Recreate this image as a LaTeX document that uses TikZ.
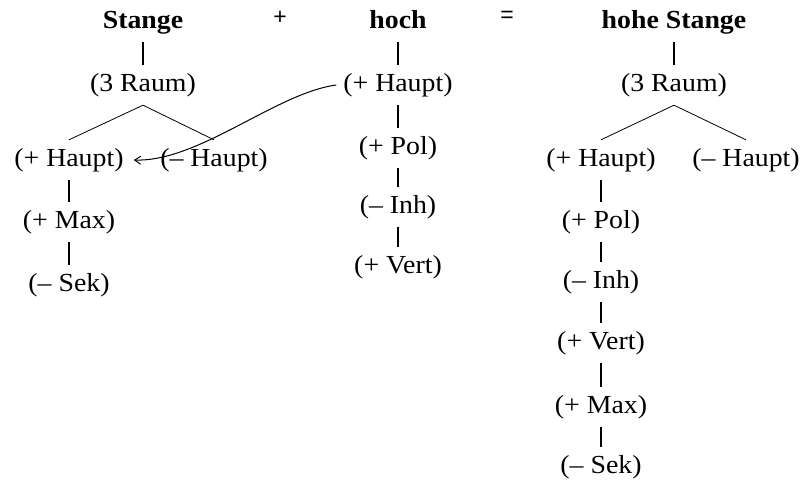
\documentclass[tikz,border=0pt]{standalone}
\usepackage{fontspec}
\setmainfont[FakeStretch=1.07]{Liberation Serif}
\newfontfamily\opfont{Liberation Sans}
\usetikzlibrary{arrows.meta}
\begin{document}
\begin{tikzpicture}[x=1pt,y=-1pt,
  lbl/.style={inner xsep=3pt, inner ysep=8pt, text height=18pt, text depth=6pt,
    font=\fontsize{26}{29}\selectfont},
  ttl/.style={lbl, font=\fontsize{26}{29}\selectfont\bfseries},
  op/.style={inner sep=0pt, font=\opfont\fontsize{23}{25}\selectfont},
  stem/.style={line width=2pt},
  branch/.style={line width=0.8pt},
  mover/.style={line width=1pt, -{Straight Barb[length=6pt,width=8pt,line width=1pt]}}]
\useasboundingbox (0,0) rectangle (806,480);
% left tree
\node[ttl] (stange) at (143,22) {Stange};
\node[lbl] (lraum) at (143,85) {(3 Raum)};
\node[lbl] (lhp) at (69,160) {(+ Haupt)};
\node[lbl] (lhm) at (214,160) {(– Haupt)};
\node[lbl] (lmax) at (69,222) {(+ Max)};
\node[lbl] (lsek) at (69,285) {(– Sek)};
% operators
\node[op] (plus) at (280,18) {+};
\node[op] (eq) at (507,17) {=};
% middle
\node[ttl] (hoch) at (398,22) {hoch};
\node[lbl] (mhp) at (398,85) {(+ Haupt)};
\node[lbl] (mpol) at (398,148) {(+ Pol)};
\node[lbl] (minh) at (398,207) {(– Inh)};
\node[lbl] (mvert) at (398,267) {(+ Vert)};
% right tree
\node[ttl] (hs) at (674,22) {hohe Stange};
\node[lbl] (rraum) at (674,85) {(3 Raum)};
\node[lbl] (rhp) at (601,160) {(+ Haupt)};
\node[lbl] (rhm) at (746,160) {(– Haupt)};
\node[lbl] (rpol) at (601,222) {(+ Pol)};
\node[lbl] (rinh) at (601,282) {(– Inh)};
\node[lbl] (rvert) at (601,343) {(+ Vert)};
\node[lbl] (rmax) at (601,407) {(+ Max)};
\node[lbl] (rsek) at (601,467) {(– Sek)};
% connectors left
\draw[stem] (stange.south) -- (lraum.north);
\draw[branch] (lraum.south) -- (lhp.north);
\draw[branch] (lraum.south) -- (lhm.north);
\draw[stem] (lhp.south) -- (lmax.north);
\draw[stem] (lmax.south) -- (lsek.north);
% middle
\draw[stem] (hoch.south) -- (mhp.north);
\draw[stem] (mhp.south) -- (mpol.north);
\draw[stem] (mpol.south) -- (minh.north);
\draw[stem] (minh.south) -- (mvert.north);
% right
\draw[stem] (hs.south) -- (rraum.north);
\draw[branch] (rraum.south) -- (rhp.north);
\draw[branch] (rraum.south) -- (rhm.north);
\draw[stem] (rhp.south) -- (rpol.north);
\draw[stem] (rpol.south) -- (rinh.north);
\draw[stem] (rinh.south) -- (rvert.north);
\draw[stem] (rvert.south) -- (rmax.north);
\draw[stem] (rmax.south) -- (rsek.north);
% movement arrow
\draw[mover] ([xshift=-4pt]mhp.west) .. controls +(-60,8) and +(65,2) .. ([xshift=7pt]lhp.east);
\end{tikzpicture}
\end{document}
